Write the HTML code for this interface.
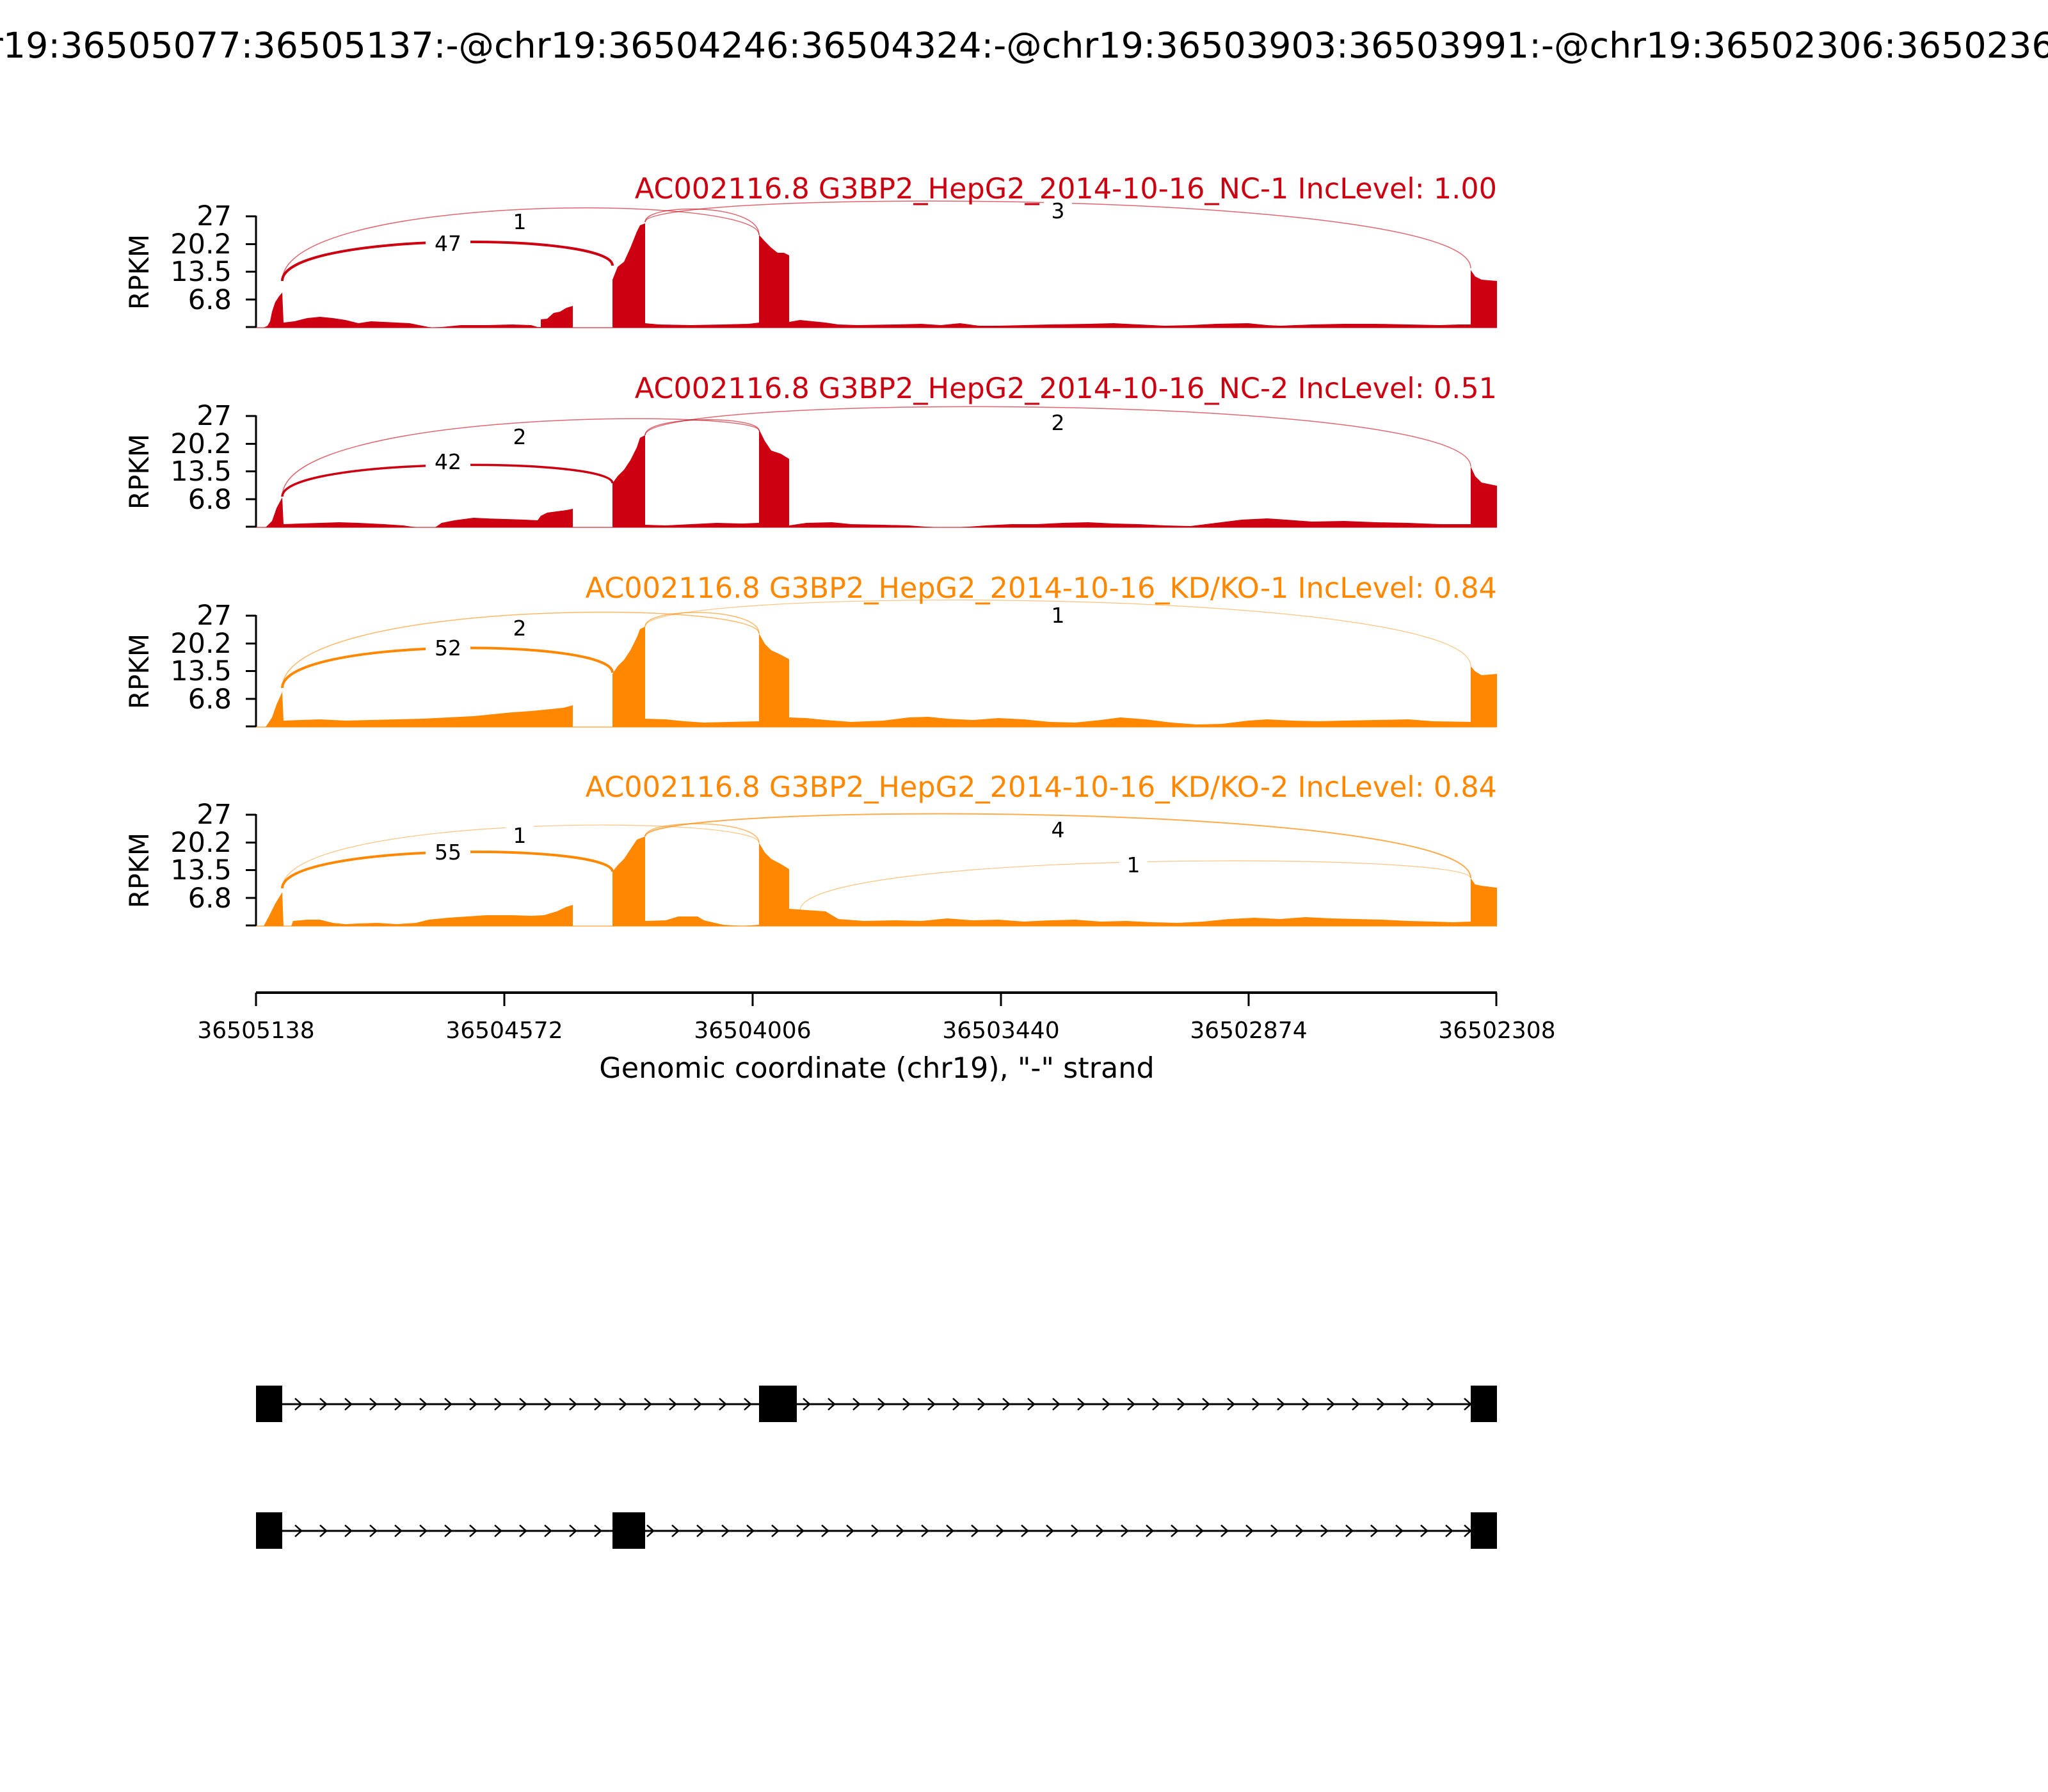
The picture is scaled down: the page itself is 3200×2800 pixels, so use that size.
<!DOCTYPE html>
<html><head><meta charset="utf-8"><style>
html,body{margin:0;padding:0;background:#fff;}
svg{display:block;font-family:"DejaVu Sans","Liberation Sans",sans-serif;}
</style></head><body>
<svg width="3200" height="2800" viewBox="0 0 3200 2800" xmlns="http://www.w3.org/2000/svg">
<rect width="3200" height="2800" fill="#fff"/>
<text x="1600" y="90" font-size="55.5" text-anchor="middle">chr19:36505077:36505137:-@chr19:36504246:36504324:-@chr19:36503903:36503991:-@chr19:36502306:36502368:-</text>

<defs>
<g id="yax">
<line x1="400" y1="0" x2="400" y2="175" stroke="#000" stroke-width="3"/>
<g stroke="#000" stroke-width="3">
<line x1="384" y1="1" x2="400" y2="1"/><line x1="384" y1="44.5" x2="400" y2="44.5"/><line x1="384" y1="87.5" x2="400" y2="87.5"/><line x1="384" y1="131" x2="400" y2="131"/><line x1="384" y1="174" x2="400" y2="174"/>
</g>
<g font-size="43" text-anchor="end">
<text x="362" y="15">27</text><text x="362" y="59">20.2</text><text x="362" y="102">13.5</text><text x="362" y="146">6.8</text>
</g>
<text transform="translate(232,88) rotate(-90)" font-size="42" text-anchor="middle">RPKM</text>
</g>
</defs>

<!-- Panel 1 -->
<g transform="translate(0,337)">
<use href="#yax"/>
<text x="2339" y="-27" font-size="44.5" text-anchor="end" fill="#CC0011">AC002116.8 G3BP2_HepG2_2014-10-16_NC-1 IncLevel: 1.00</text>
<path fill="#CC0011" d="M400,175 L412,175 L418,172 L422,165 L425,150 L430,135 L436,126 L441,120 L443,167 L460,165 L480,160 L500,158 L520,160 L540,163 L560,168 L580,165 L600,166 L620,167 L640,168 L660,172 L675,175 L690,174 L720,171 L760,171 L800,170 L830,171 L840,174 L845,174 L845,162 L855,161 L865,152 L875,150 L885,144 L895,141 L895,175 L957,175 L957,100 L965,80 L975,72 L985,50 L995,25 L1000,15 L1008,12 L1008,168 L1030,170 L1080,171 L1130,170 L1170,169 L1186,167 L1186,30 L1195,40 L1205,50 L1215,58 L1225,58 L1233,62 L1233,166 L1250,163 L1270,165 L1290,167 L1310,170 L1340,171 L1400,170 L1440,169 L1470,171 L1500,168 L1530,172 L1560,172 L1600,171 L1640,170 L1700,169 L1740,168 L1780,170 L1820,172 L1860,171 L1900,169 L1950,168 L1980,171 L2000,172 L2050,170 L2100,169 L2150,169 L2200,170 L2250,171 L2280,170 L2298,170 L2298,85 L2305,95 L2315,100 L2339,102 L2339,175 Z"/>
<line x1="400" y1="175" x2="2339" y2="175" stroke="#CC0011" stroke-width="2" opacity="0.5"/>
<g fill="none" stroke="#CC0011">
<path d="M441,102 C441,25 957,25 957,78" stroke-width="4"/>
<path d="M441,102 C441,-35 1186,-35 1186,30" stroke-width="1.5" opacity="0.6"/>
<path d="M1008,10 C1008,-42 2298,-42 2298,82" stroke-width="1.5" opacity="0.6"/>
<path d="M1008,10 C1008,-20 1186,-20 1186,30" stroke-width="1.5" opacity="0.6"/>
</g>
<g font-size="33" text-anchor="middle">
<rect x="665" y="26" width="70" height="34" fill="#fff"/><text x="700" y="55">47</text>
<rect x="790" y="-8" width="44" height="36" fill="#fff"/><text x="812" y="21">1</text>
<rect x="1631" y="-25" width="44" height="36" fill="#fff"/><text x="1653" y="4">3</text>
</g>
</g>

<!-- Panel 2 -->
<g transform="translate(0,649)">
<use href="#yax"/>
<text x="2339" y="-27" font-size="44.5" text-anchor="end" fill="#CC0011">AC002116.8 G3BP2_HepG2_2014-10-16_NC-2 IncLevel: 0.51</text>
<path fill="#CC0011" d="M400,175 L415,175 L425,165 L432,145 L441,128 L443,170 L470,169 L500,168 L530,167 L560,168 L600,170 L630,172 L650,175 L680,175 L690,168 L710,164 L740,160 L760,161 L790,162 L820,163 L840,164 L845,157 L855,152 L870,150 L885,148 L895,146 L895,175 L957,175 L957,106 L965,95 L975,85 L985,70 L995,50 L1000,35 L1008,31 L1008,171 L1040,172 L1080,170 L1120,168 L1160,169 L1186,168 L1186,22 L1195,40 L1205,55 L1220,60 L1233,68 L1233,172 L1260,168 L1300,167 L1330,170 L1380,171 L1420,172 L1460,175 L1500,175 L1540,172 L1580,170 L1620,170 L1660,168 L1700,167 L1740,169 L1780,170 L1820,172 L1860,173 L1900,168 L1940,163 L1980,161 L2010,163 L2050,166 L2100,165 L2150,167 L2200,168 L2250,170 L2298,170 L2298,80 L2305,95 L2315,105 L2339,110 L2339,175 Z"/>
<line x1="400" y1="175" x2="2339" y2="175" stroke="#CC0011" stroke-width="2" opacity="0.5"/>
<g fill="none" stroke="#CC0011">
<path d="M441,127 C441,65 957,65 957,106" stroke-width="3.5"/>
<path d="M441,127 C441,-10 1186,-10 1186,24" stroke-width="1.5" opacity="0.6"/>
<path d="M1008,31 C1008,-35 2298,-35 2298,80" stroke-width="1.5" opacity="0.6"/>
<path d="M1008,31 C1008,0 1186,0 1186,24" stroke-width="1.5" opacity="0.6"/>
</g>
<g font-size="33" text-anchor="middle">
<rect x="665" y="55" width="70" height="34" fill="#fff"/><text x="700" y="84">42</text>
<rect x="790" y="16" width="44" height="36" fill="#fff"/><text x="812" y="45">2</text>
<rect x="1631" y="-6" width="44" height="36" fill="#fff"/><text x="1653" y="23">2</text>
</g>
</g>

<!-- Panel 3 -->
<g transform="translate(0,961)">
<use href="#yax"/>
<text x="2339" y="-27" font-size="44.5" text-anchor="end" fill="#FF8800">AC002116.8 G3BP2_HepG2_2014-10-16_KD/KO-1 IncLevel: 0.84</text>
<path fill="#FF8800" d="M400,175 L415,175 L425,160 L432,140 L441,120 L443,165 L470,164 L500,163 L540,165 L580,164 L620,163 L660,162 L700,160 L740,158 L770,155 L800,152 L830,150 L860,147 L880,145 L895,141 L895,175 L957,175 L957,92 L965,80 L975,70 L985,55 L995,35 L1000,22 L1008,18 L1008,162 L1040,163 L1070,166 L1100,168 L1140,167 L1186,166 L1186,29 L1195,45 L1205,55 L1220,62 L1233,69 L1233,160 L1260,161 L1290,164 L1330,167 L1380,165 L1420,160 L1450,159 L1480,162 L1520,164 L1560,161 L1600,163 L1640,167 L1680,168 L1720,164 L1750,160 L1790,163 L1830,168 L1870,171 L1910,170 L1950,165 L1980,163 L2020,165 L2060,166 L2100,165 L2150,164 L2200,163 L2240,166 L2298,167 L2298,80 L2305,88 L2315,94 L2339,92 L2339,175 Z"/>
<line x1="400" y1="175" x2="2339" y2="175" stroke="#FF8800" stroke-width="2" opacity="0.5"/>
<g fill="none" stroke="#FF8800">
<path d="M441,114 C441,35 957,35 957,90" stroke-width="4"/>
<path d="M441,114 C441,-25 1186,-25 1186,29" stroke-width="1.5" opacity="0.6"/>
<path d="M1008,18 C1008,-45 2298,-45 2298,80" stroke-width="1.2" opacity="0.5"/>
<path d="M1008,18 C1008,-13 1186,-13 1186,29" stroke-width="1.5" opacity="0.6"/>
</g>
<g font-size="33" text-anchor="middle">
<rect x="665" y="34" width="70" height="34" fill="#fff"/><text x="700" y="63">52</text>
<rect x="790" y="3" width="44" height="36" fill="#fff"/><text x="812" y="32">2</text>
<rect x="1631" y="-17" width="44" height="36" fill="#fff"/><text x="1653" y="12">1</text>
</g>
</g>

<!-- Panel 4 -->
<g transform="translate(0,1272)">
<use href="#yax"/>
<text x="2339" y="-27" font-size="44.5" text-anchor="end" fill="#FF8800">AC002116.8 G3BP2_HepG2_2014-10-16_KD/KO-2 IncLevel: 0.84</text>
<path fill="#FF8800" d="M400,175 L412,175 L420,160 L430,140 L441,122 L443,175 L455,175 L458,167 L480,165 L500,165 L520,170 L540,172 L560,171 L590,170 L620,172 L650,170 L670,165 L700,162 L730,160 L760,158 L800,158 L830,159 L850,158 L870,152 L885,145 L895,142 L895,175 L957,175 L957,90 L965,80 L975,70 L985,55 L995,40 L1000,38 L1008,35 L1008,167 L1040,166 L1060,160 L1090,160 L1100,166 L1130,173 L1160,175 L1186,173 L1186,45 L1195,60 L1205,70 L1220,78 L1233,86 L1233,148 L1260,150 L1290,152 L1310,164 L1350,167 L1400,166 L1440,167 L1480,163 L1520,166 L1560,165 L1600,168 L1640,166 L1680,165 L1720,168 L1760,167 L1800,169 L1840,170 L1880,168 L1920,164 L1960,162 L2000,164 L2040,161 L2080,163 L2120,164 L2160,165 L2200,167 L2240,168 L2270,169 L2298,168 L2298,100 L2305,110 L2315,112 L2339,115 L2339,175 Z"/>
<line x1="400" y1="175" x2="2339" y2="175" stroke="#FF8800" stroke-width="2" opacity="0.5"/>
<g fill="none" stroke="#FF8800">
<path d="M441,116 C441,45 957,45 957,90" stroke-width="4"/>
<path d="M441,116 C441,0 1186,0 1186,45" stroke-width="1.2" opacity="0.5"/>
<path d="M1008,35 C1008,-20 2298,-20 2298,100" stroke-width="2" opacity="0.7"/>
<path d="M1008,35 C1008,7 1186,7 1186,45" stroke-width="1.5" opacity="0.6"/>
<path d="M1250,151 C1250,58 2298,58 2298,100" stroke-width="1.2" opacity="0.5"/>
</g>
<g font-size="33" text-anchor="middle">
<rect x="665" y="42" width="70" height="34" fill="#fff"/><text x="700" y="71">55</text>
<rect x="790" y="16" width="44" height="36" fill="#fff"/><text x="812" y="45">1</text>
<rect x="1631" y="7" width="44" height="36" fill="#fff"/><text x="1653" y="36">4</text>
<rect x="1749" y="62" width="44" height="36" fill="#fff"/><text x="1771" y="91">1</text>
</g>
</g>

<!-- X axis -->
<line x1="400" y1="1551" x2="2339" y2="1551" stroke="#000" stroke-width="4"/>
<g stroke="#000" stroke-width="3">
<line x1="400" y1="1551" x2="400" y2="1572"/><line x1="788" y1="1551" x2="788" y2="1572"/><line x1="1176" y1="1551" x2="1176" y2="1572"/><line x1="1564" y1="1551" x2="1564" y2="1572"/><line x1="1951" y1="1551" x2="1951" y2="1572"/><line x1="2338" y1="1551" x2="2338" y2="1572"/>
</g>
<g font-size="36" text-anchor="middle">
<text x="400" y="1622">36505138</text><text x="788" y="1622">36504572</text><text x="1176" y="1622">36504006</text><text x="1564" y="1622">36503440</text><text x="1951" y="1622">36502874</text><text x="2339" y="1622">36502308</text>
</g>
<text x="1370" y="1684" font-size="44.5" text-anchor="middle">Genomic coordinate (chr19), "-" strand</text>

<!-- Gene models -->
<defs>
<path id="chev" d="M-7,-9 L3,0 L-7,9" fill="none" stroke="#000" stroke-width="2.5"/>
</defs>
<g>
<line x1="441" y1="2194" x2="2298" y2="2194" stroke="#000" stroke-width="3"/>
<rect x="400" y="2165" width="41" height="57" fill="#000"/>
<rect x="1186" y="2165" width="59" height="57" fill="#000"/>
<rect x="2298" y="2165" width="41" height="57" fill="#000"/>
<g transform="translate(0,2194)">
<use href="#chev" x="468"/><use href="#chev" x="507"/><use href="#chev" x="546"/><use href="#chev" x="585"/><use href="#chev" x="624"/><use href="#chev" x="663"/><use href="#chev" x="702"/><use href="#chev" x="741"/><use href="#chev" x="780"/><use href="#chev" x="819"/><use href="#chev" x="858"/><use href="#chev" x="897"/><use href="#chev" x="936"/><use href="#chev" x="975"/><use href="#chev" x="1014"/><use href="#chev" x="1053"/><use href="#chev" x="1092"/><use href="#chev" x="1131"/><use href="#chev" x="1170"/>
<use href="#chev" x="1262"/><use href="#chev" x="1301"/><use href="#chev" x="1340"/><use href="#chev" x="1379"/><use href="#chev" x="1418"/><use href="#chev" x="1457"/><use href="#chev" x="1496"/><use href="#chev" x="1535"/><use href="#chev" x="1574"/><use href="#chev" x="1613"/><use href="#chev" x="1652"/><use href="#chev" x="1691"/><use href="#chev" x="1730"/><use href="#chev" x="1769"/><use href="#chev" x="1808"/><use href="#chev" x="1847"/><use href="#chev" x="1886"/><use href="#chev" x="1925"/><use href="#chev" x="1964"/><use href="#chev" x="2003"/><use href="#chev" x="2042"/><use href="#chev" x="2081"/><use href="#chev" x="2120"/><use href="#chev" x="2159"/><use href="#chev" x="2198"/><use href="#chev" x="2237"/><use href="#chev" x="2295"/>
</g>
</g>
<g>
<line x1="441" y1="2392" x2="2298" y2="2392" stroke="#000" stroke-width="3"/>
<rect x="400" y="2363" width="41" height="57" fill="#000"/>
<rect x="957" y="2363" width="51" height="57" fill="#000"/>
<rect x="2298" y="2363" width="41" height="57" fill="#000"/>
<g transform="translate(0,2392)">
<use href="#chev" x="468"/><use href="#chev" x="507"/><use href="#chev" x="546"/><use href="#chev" x="585"/><use href="#chev" x="624"/><use href="#chev" x="663"/><use href="#chev" x="702"/><use href="#chev" x="741"/><use href="#chev" x="780"/><use href="#chev" x="819"/><use href="#chev" x="858"/><use href="#chev" x="897"/><use href="#chev" x="936"/>
<use href="#chev" x="1018"/><use href="#chev" x="1057"/><use href="#chev" x="1096"/><use href="#chev" x="1135"/><use href="#chev" x="1174"/><use href="#chev" x="1213"/><use href="#chev" x="1252"/><use href="#chev" x="1291"/><use href="#chev" x="1330"/><use href="#chev" x="1369"/><use href="#chev" x="1408"/><use href="#chev" x="1447"/><use href="#chev" x="1486"/><use href="#chev" x="1525"/><use href="#chev" x="1564"/><use href="#chev" x="1603"/><use href="#chev" x="1642"/><use href="#chev" x="1681"/><use href="#chev" x="1720"/><use href="#chev" x="1759"/><use href="#chev" x="1798"/><use href="#chev" x="1837"/><use href="#chev" x="1876"/><use href="#chev" x="1915"/><use href="#chev" x="1954"/><use href="#chev" x="1993"/><use href="#chev" x="2032"/><use href="#chev" x="2071"/><use href="#chev" x="2110"/><use href="#chev" x="2149"/><use href="#chev" x="2188"/><use href="#chev" x="2227"/><use href="#chev" x="2266"/><use href="#chev" x="2295"/>
</g>
</g>
</svg>
</body></html>
